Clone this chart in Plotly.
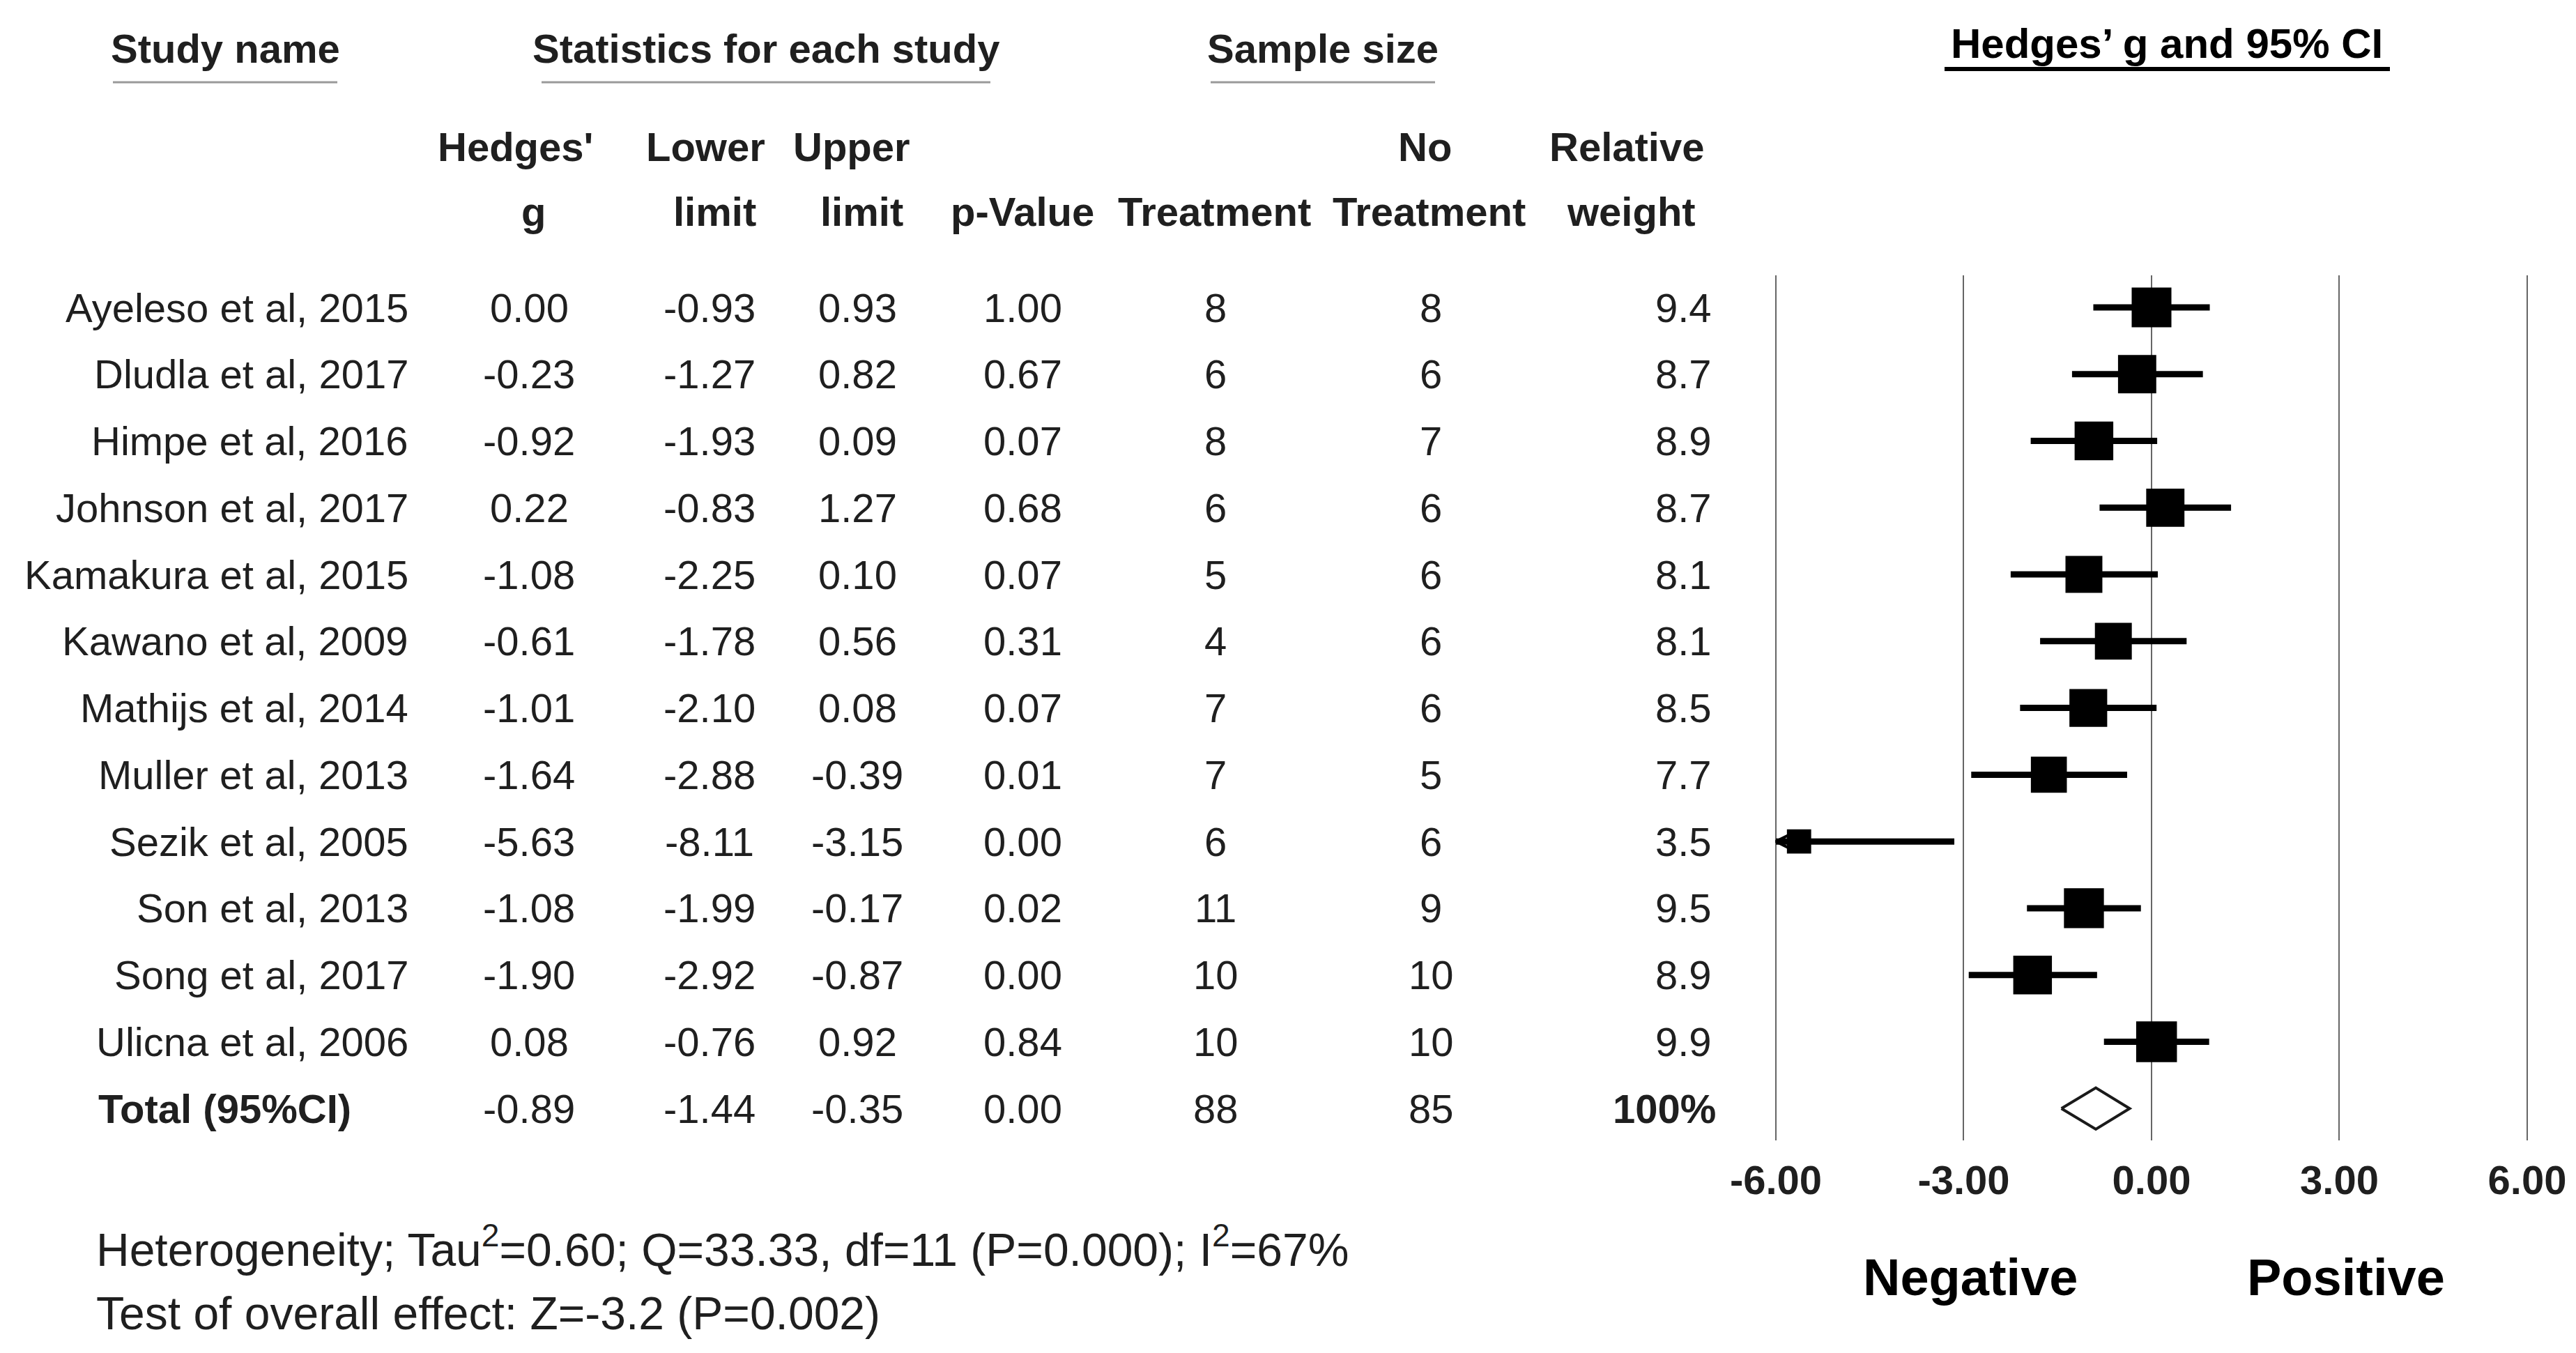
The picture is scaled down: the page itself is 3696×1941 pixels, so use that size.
import plotly.graph_objects as go

# Forest plot data (Hedges' g, 95% CI, sample sizes, weights)
studies = ["Ayeleso et al, 2015", "Dludla et al, 2017", "Himpe et al, 2016", "Johnson et al, 2017",
           "Kamakura et al, 2015", "Kawano et al, 2009", "Mathijs et al, 2014", "Muller et al, 2013",
           "Sezik et al, 2005", "Son et al, 2013", "Song et al, 2017", "Ulicna et al, 2006"]
hedges_g = [0.00, -0.23, -0.92, 0.22, -1.08, -0.61, -1.01, -1.64, -5.63, -1.08, -1.90, 0.08]
lower = [-0.93, -1.27, -1.93, -0.83, -2.25, -1.78, -2.10, -2.88, -8.11, -1.99, -2.92, -0.76]
upper = [0.93, 0.82, 0.09, 1.27, 0.10, 0.56, 0.08, -0.39, -3.15, -0.17, -0.87, 0.92]
p_value = [1.00, 0.67, 0.07, 0.68, 0.07, 0.31, 0.07, 0.01, 0.00, 0.02, 0.00, 0.84]
n_treat = [8, 6, 8, 6, 5, 4, 7, 7, 6, 11, 10, 10]
n_ctrl = [8, 6, 7, 6, 6, 6, 6, 5, 6, 9, 10, 10]
weight = [9.4, 8.7, 8.9, 8.7, 8.1, 8.1, 8.5, 7.7, 3.5, 9.5, 8.9, 9.9]

total_g = -0.89
total_lower = -1.44
total_upper = -0.35
total_p = 0.00
total_treat = 88
total_ctrl = 85
total_weight = "100%"

tick_vals = [-6, -3, 0, 3, 6]
tick_text = ["-6.00", "-3.00", "0.00", "3.00", "6.00"]

heterogeneity = "Heterogeneity; Tau<sup>2</sup>=0.60; Q=33.33, df=11 (P=0.000); I<sup>2</sup>=67%"
overall = "Test of overall effect: Z=-3.2 (P=0.002)"

W, H = 3696, 1941
FONT = "Liberation Sans, Arial, sans-serif"
TXT = "#1f1f1f"
FS = 58
XMIN, XMAX = -6, 6
PAD = 0.05                    # a little room so the end gridlines are kept
X_LEFT, X_RIGHT = 2540, 3618  # pixel positions of -6 and 6
ROW0, ROWSTEP = 433, 95.77    # pixel centre of first row and row spacing


def px(x):
    return x / W


def py(y):
    return 1 - y / H


def row_at(y):
    # pixel height -> row coordinate on the y axis
    return (y - ROW0) / ROWSTEP


rows = list(range(len(studies)))
total_row = len(studies)

fig = go.Figure()

# confidence interval lines (clipped to axis range)
ci_x, ci_y = [], []
for i, (lo, hi) in enumerate(zip(lower, upper)):
    ci_x += [max(lo, XMIN), min(hi, XMAX), None]
    ci_y += [i, i, None]
fig.add_trace(go.Scatter(x=ci_x, y=ci_y, mode="lines", line=dict(color="black", width=9),
                         hoverinfo="skip", cliponaxis=False))

# arrows where the interval runs off the scale
clip_rows = [i for i, lo in enumerate(lower) if lo < XMIN]
fig.add_trace(go.Scatter(x=[XMIN] * len(clip_rows), y=clip_rows, mode="markers",
                         marker=dict(symbol="arrow-left-open", size=24, color="black", opacity=1,
                                     line=dict(color="black", width=4)),
                         hoverinfo="skip", cliponaxis=False))

# study boxes, area proportional to weight
fig.add_trace(go.Scatter(x=hedges_g, y=rows, mode="markers",
                         marker=dict(symbol="square", color="black", opacity=1,
                                     size=[18.6 * w ** 0.5 for w in weight],
                                     line=dict(width=0)),
                         text=studies, hovertemplate="%{text}: %{x:.2f}<extra></extra>",
                         cliponaxis=False))

# pooled diamond
dh = 0.31
fig.add_trace(go.Scatter(x=[total_lower, total_g, total_upper, total_g, total_lower],
                         y=[total_row, total_row - dh, total_row, total_row + dh, total_row],
                         mode="lines", fill="toself", fillcolor="white",
                         line=dict(color="#1a1a1a", width=4), hoverinfo="skip", cliponaxis=False))

ann = []


def txt(x, y, s, size=FS, bold=False, anchor="center", color=TXT, ref="y"):
    ann.append(dict(x=px(x), y=y, xref="paper", yref=ref, text=s, showarrow=False,
                    xanchor=anchor, yanchor="middle",
                    font=dict(family=FONT, size=size, color=color,
                              weight="bold" if bold else "normal")))


def head(x, y, s, **kw):
    txt(x, py(y), s, ref="paper", **kw)


# top headers
head(315, 62, "Study name", bold=True)
head(1091, 62, "Statistics for each study", bold=True)
head(1890, 62, "Sample size", bold=True)
head(3101, 55, "Hedges’ g and 95% CI", size=60, bold=True, color="black")

# column headers
for x, s in [(731, "Hedges'"), (1004, "Lower"), (1214, "Upper"), (2036, "No"), (2326, "Relative")]:
    head(x, 202, s, bold=True)
for x, s in [(757, "g"), (1017, "limit"), (1228, "limit"), (1459, "p-Value"),
             (1734, "Treatment"), (2042, "Treatment"), (2332, "weight")]:
    head(x, 295, s, bold=True)

# study rows
for i in rows:
    txt(580, i, studies[i], anchor="right")
    txt(751, i, f"{hedges_g[i]:.2f}")
    txt(1010, i, f"{lower[i]:.2f}")
    txt(1222, i, f"{upper[i]:.2f}")
    txt(1459, i, f"{p_value[i]:.2f}")
    txt(1736, i, str(n_treat[i]))
    txt(2045, i, str(n_ctrl[i]))
    txt(2450, i, f"{weight[i]:.1f}", anchor="right")

# total row
txt(131, total_row, "Total (95%CI)", bold=True, anchor="left")
txt(751, total_row, f"{total_g:.2f}")
txt(1010, total_row, f"{total_lower:.2f}")
txt(1222, total_row, f"{total_upper:.2f}")
txt(1459, total_row, f"{total_p:.2f}")
txt(1736, total_row, str(total_treat))
txt(2045, total_row, str(total_ctrl))
txt(2456, total_row, total_weight, bold=True, anchor="right")

# footer
head(128, 1780, heterogeneity, size=66, anchor="left")
head(128, 1876, overall, size=66, anchor="left")
head(2819, 1824, "Negative", size=74, bold=True, color="black")
head(3358, 1824, "Positive", size=74, bold=True, color="black")

# header underlines
shapes = []
for x0, x1 in [(154, 476), (769, 1413), (1729, 2051)]:
    shapes.append(dict(type="line", xref="paper", yref="paper", x0=px(x0), x1=px(x1),
                       y0=py(110), y1=py(110), line=dict(color="#9a9a9a", width=3)))
shapes.append(dict(type="line", xref="paper", yref="paper", x0=px(2782), x1=px(3421),
                   y0=py(91), y1=py(91), line=dict(color="black", width=6)))

unit = (X_RIGHT - X_LEFT) / (XMAX - XMIN)
fig.update_layout(
    template="none",
    width=W, height=H,
    margin=dict(l=0, r=0, t=0, b=0, autoexpand=False),
    paper_bgcolor="white", plot_bgcolor="white",
    showlegend=False,
    annotations=ann,
    shapes=shapes,
    xaxis=dict(domain=[px(X_LEFT - PAD * unit), px(X_RIGHT + PAD * unit)],
               range=[XMIN - PAD, XMAX + PAD], automargin=False,
               tickvals=tick_vals, ticktext=tick_text,
               showgrid=True, gridcolor="#666666", gridwidth=2,
               zeroline=False, showline=False,
               ticks="outside", ticklen=6, tickcolor="rgba(0,0,0,0)",
               tickfont=dict(family=FONT, size=FS, color=TXT, weight="bold"),
               fixedrange=True),
    yaxis=dict(domain=[py(1628), py(387)], range=[row_at(1628), row_at(387)],
               automargin=False,
               showgrid=False, zeroline=False, showticklabels=False, showline=False,
               fixedrange=True),
)

fig.write_html("out.html")
